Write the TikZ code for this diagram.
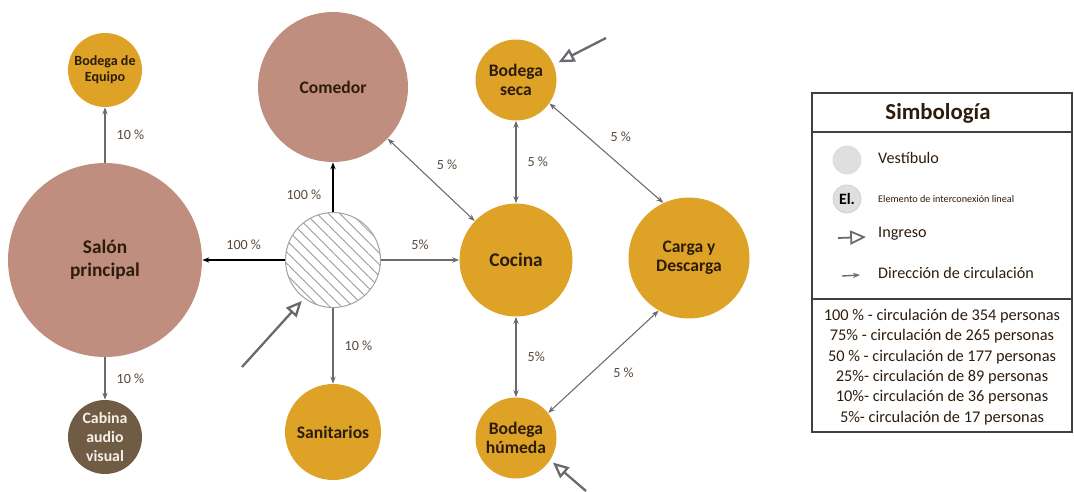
\documentclass[tikz,border=0pt]{standalone}
\usepackage{fontspec}
\setmainfont{Carlito}
\usepackage{tikz}
\usetikzlibrary{arrows.meta,positioning,patterns.meta}
\definecolor{goldzone}{RGB}{222,163,38}
\definecolor{rosezone}{RGB}{192,142,126}
\definecolor{brownzone}{RGB}{112,92,68}
\definecolor{darktext}{RGB}{45,28,12}
\definecolor{flowgray}{RGB}{105,105,110}

\begin{document}
\begin{tikzpicture}[
    x=0.02cm, y=-0.02cm,
    zone/.style={circle, inner sep=0pt, align=center, font=\bfseries\fontsize{10}{11}\selectfont, text=darktext},
    gold/.style={zone, fill=goldzone},
    rose/.style={zone, fill=rosezone},
    flow/.style={-{Stealth[length=4pt,width=3pt]}, flowgray, line width=0.6pt},
    both/.style={{Stealth[length=4pt,width=3pt]}-{Stealth[length=4pt,width=3pt]}, flowgray, line width=0.6pt},
    main/.style={-{Stealth[length=4pt,width=3pt]}, black, line width=0.8pt},
    ingreso/.style={-{Triangle[open,length=9pt,width=8pt]}, flowgray, line width=1.3pt},
    pct/.style={font=\fontsize{8}{9}\selectfont, text=darktext!80},
    legtext/.style={font=\fontsize{9.2}{10}\selectfont, text=darktext, anchor=west}
  ]
    \useasboundingbox (0,0) rectangle (1074,491);

    \node[gold, minimum size=1.48cm, font=\bfseries\fontsize{8}{9}\selectfont] (equipo) at (105,70) {Bodega de\\Equipo};
    \node[rose, minimum size=3.88cm, font=\bfseries\fontsize{11}{13}\selectfont] (salon) at (105,260) {Salón\\principal};
    \node[zone, fill=brownzone, text=white!88!brown, minimum size=1.48cm, font=\bfseries\fontsize{9}{11}\selectfont] (cabina) at (105,437) {Cabina\\audio\\visual};
    \node[rose, minimum size=3cm] (comedor) at (333,87) {Comedor};
    \node[circle, minimum size=1.9cm, draw=gray!70, line width=0.6pt, pattern={Lines[angle=-45,distance=4.6pt,line width=0.5pt]}, pattern color=gray!80] (vest) at (333,260) {};
    \node[gold, minimum size=1.92cm] (sanit) at (333,432) {Sanitarios};
    \node[gold, minimum size=1.62cm] (bseca) at (516,80) {Bodega\\seca};
    \node[gold, minimum size=2.26cm, font=\bfseries\fontsize{11}{13}\selectfont] (cocina) at (516,260) {Cocina};
    \node[gold, minimum size=1.62cm] (humeda) at (516,438) {Bodega\\húmeda};
    \node[gold, minimum size=2.42cm] (carga) at (689,258) {Carga y\\Descarga};

    \draw[flow] (salon) -- (equipo) node[pct, midway, right=3pt] {10 \%};
    \draw[flow] (salon) -- (cabina) node[pct, midway, right=3pt] {10 \%};
    \draw[main] (vest) -- (salon) node[pct, midway, above=2pt] {100 \%};
    \draw[main] (vest) -- (comedor) node[pct, pos=0.35, left=3pt] {100 \%};
    \draw[flow] (vest) -- (cocina) node[pct, midway, above=2pt] {5\%};
    \draw[flow] (vest) -- (sanit) node[pct, midway, right=3pt] {10 \%};
    \draw[both] (comedor) -- (cocina) node[pct, pos=0.45, above right=0pt and 2pt] {5 \%};
    \draw[both] (bseca) -- (cocina) node[pct, midway, right=3pt] {5 \%};
    \draw[both] (bseca.-35) -- (carga.115) node[pct, pos=0.45, above right=0pt and 2pt] {5 \%};
    \draw[both] (cocina) -- (humeda) node[pct, midway, right=3pt] {5\%};
    \draw[both] (humeda.38) -- (carga.240) node[pct, pos=0.5, below right=0pt and 2pt] {5 \%};

    \coordinate (in1) at (242,367);
    \coordinate (in2) at (606,38);
    \coordinate (in3) at (586,491);
    \draw[ingreso, shorten >=2pt] (in1) -- (vest.233);
    \draw[ingreso, shorten >=3pt] (in2) -- (bseca.22);
    \draw[ingreso, shorten >=2pt] (in3) -- (humeda.-33);

    \draw[black!75, line width=0.7pt] (812,93) rectangle (1072,432);
    \draw[black!75, line width=0.7pt] (812,132) -- (1072,132);
    \draw[black!75, line width=0.7pt] (812,299) -- (1072,299);
    \node[font=\bfseries\fontsize{13}{15}\selectfont, text=darktext] (symtitle) at (938,113) {Simbología};
    \node[circle, minimum size=0.56cm, fill=gray!25, draw=gray!30] (symvest) at (847,160) {};
    \node[legtext] (symvesttxt) at (872,158) {Vestíbulo};
    \node[circle, minimum size=0.56cm, fill=gray!25, draw=gray!40, inner sep=0pt, font=\bfseries\fontsize{9}{10}\selectfont] (symel) at (847,199) {El.};
    \node[legtext, font=\fontsize{5.8}{7}\selectfont] (symeltxt) at (872,199) {Elemento de interconexión lineal};
    \coordinate (symin) at (838,238);
    \node[legtext] (symintxt) at (872,234) {Ingreso};
    \draw[ingreso, line width=1pt] (symin) -- ++(28,-1);
    \coordinate (symdir) at (842,276);
    \node[legtext] (symdirtxt) at (872,273) {Dirección de circulación};
    \draw[flow, line width=0.8pt] (symdir) -- ++(18,-1);
    \node[font=\fontsize{9.3}{11.6}\selectfont, text=darktext, align=center] (pcts) at (942,367) {100 \% - circulación de 354 personas\\75\% - circulación de 265 personas\\50 \% - circulación de 177 personas\\25\%- circulación de 89 personas\\10\%- circulación de 36 personas\\5\%- circulación de 17 personas};
\end{tikzpicture}
\end{document}
